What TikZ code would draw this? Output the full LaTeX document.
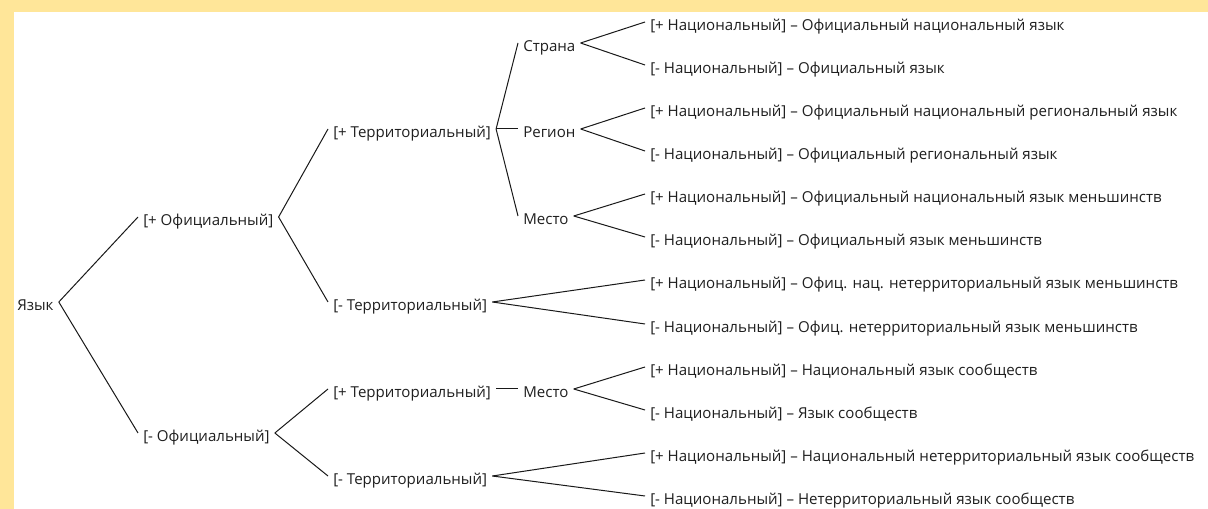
\documentclass[tikz,border=0pt]{standalone}
\usepackage{fontspec}
\setmainfont{Open Sans}
\usetikzlibrary{calc}
\definecolor{bordery}{HTML}{FFE699}
\newcommand\myconn[2]{\draw[edge] ($(#1.east)+(5,-3)$) -- ($(#2.west)+(-5,-3)$);}
\begin{document}
\begin{tikzpicture}[x=0.75pt,y=-0.75pt,
 lbl/.style={anchor=west,inner sep=0pt,text height=8pt,text depth=0pt,font=\fontsize{11.3}{13}\selectfont,text=black!88},
 edge/.style={draw=black!90,line width=0.75pt}]
\useasboundingbox (0,0) rectangle (1208,509);
\fill[bordery] (0,0) rectangle (1208,509);
\fill[white] (14,12) rectangle (1208,509);
% level 0
\node[lbl] (root) at (17,305) {Язык};
% level 1
\node[lbl] (of1) at (143,220) {[+ Официальный]};
\node[lbl] (of2) at (143,436) {[- Официальный]};
% level 2
\node[lbl] (t1) at (333,132) {[+ Территориальный]};
\node[lbl] (t2) at (333,305) {[- Территориальный]};
\node[lbl] (t3) at (333,392) {[+ Территориальный]};
\node[lbl] (t4) at (333,479) {[- Территориальный]};
% level 3
\node[lbl] (c1) at (523,46) {Страна};
\node[lbl] (c2) at (523,132) {Регион};
\node[lbl] (c3) at (523,219) {Место};
\node[lbl] (c4) at (523,392) {Место};
% leaves
\node[lbl] (l0) at (650,25) {[+ Национальный] – Официальный национальный язык};
\node[lbl] (l1) at (650,68) {[- Национальный] – Официальный язык};
\node[lbl] (l2) at (650,111) {[+ Национальный] – Официальный национальный региональный язык};
\node[lbl] (l3) at (650,154) {[- Национальный] – Официальный региональный язык};
\node[lbl] (l4) at (650,197) {[+ Национальный] – Официальный национальный язык меньшинств};
\node[lbl] (l5) at (650,240) {[- Национальный] – Официальный язык меньшинств};
\node[lbl] (l6) at (650,283) {[+ Национальный] – Офиц. нац. нетерриториальный язык меньшинств};
\node[lbl] (l7) at (650,327) {[- Национальный] – Офиц. нетерриториальный язык меньшинств};
\node[lbl] (l8) at (650,370) {[+ Национальный] – Национальный язык сообществ};
\node[lbl] (l9) at (650,413) {[- Национальный] – Язык сообществ};
\node[lbl] (l10) at (650,456) {[+ Национальный] – Национальный нетерриториальный язык сообществ};
\node[lbl] (l11) at (650,499) {[- Национальный] – Нетерриториальный язык сообществ};
% connectors
\myconn{root}{of1}\myconn{root}{of2}
\myconn{of1}{t1}\myconn{of1}{t2}
\myconn{of2}{t3}\myconn{of2}{t4}
\myconn{t1}{c1}\myconn{t1}{c2}\myconn{t1}{c3}
\myconn{t2}{l6}\myconn{t2}{l7}
\myconn{t3}{c4}
\myconn{t4}{l10}\myconn{t4}{l11}
\myconn{c1}{l0}\myconn{c1}{l1}
\myconn{c2}{l2}\myconn{c2}{l3}
\myconn{c3}{l4}\myconn{c3}{l5}
\myconn{c4}{l8}\myconn{c4}{l9}
\end{tikzpicture}
\end{document}
